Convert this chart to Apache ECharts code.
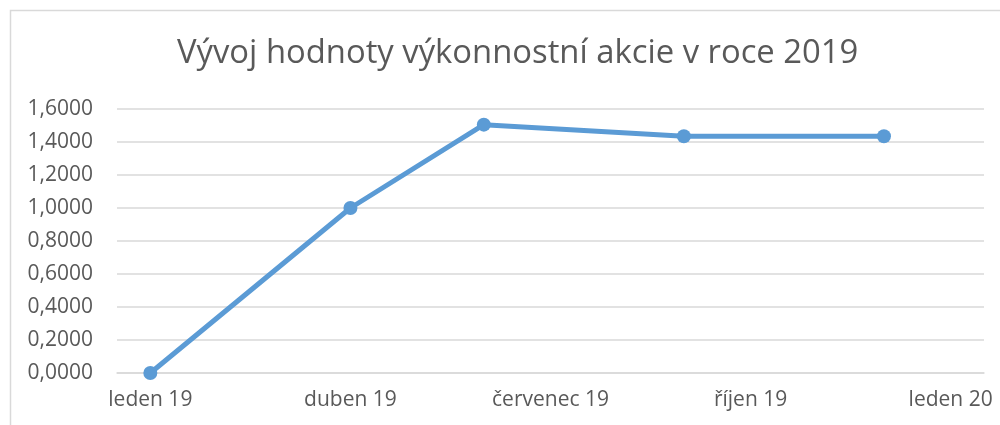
<!DOCTYPE html>
<html>
<head>
<meta charset="utf-8">
<script src="https://cdn.jsdelivr.net/npm/echarts@6/dist/echarts.min.js"></script>
<style>
  html, body { margin: 0; padding: 0; background: #fff; }
  #chart { width: 1000px; height: 425px; }
</style>
</head>
<body>
<div id="chart"></div>
<script>
// monthly axis, Jan 2019 .. Jan 2020
const months = ['leden 19', 'únor 19', 'březen 19', 'duben 19', 'květen 19', 'červen 19',
  'červenec 19', 'srpen 19', 'září 19', 'říjen 19', 'listopad 19', 'prosinec 19', 'leden 20'];
const values = [0, null, null, 1.0, null, 1.505, null, null, 1.435, null, null, 1.435, null];
const yTicks = [0, 0.2, 0.4, 0.6, 0.8, 1.0, 1.2, 1.4, 1.6];

const chart = echarts.init(document.getElementById('chart'));
const font = '"Open Sans", sans-serif';

chart.setOption({
  animation: false,
  graphic: [{
    type: 'rect',
    shape: { x: 10.5, y: 10.5, width: 1000, height: 430 },
    style: { fill: 'none', stroke: '#d9d9d9', lineWidth: 1.5 }
  }],
  title: {
    text: 'Vývoj hodnoty výkonnostní akcie v roce 2019',
    left: 172,
    top: 32,
    textStyle: { fontFamily: font, fontSize: 32.8, fontWeight: 'normal', color: '#595959' }
  },
  grid: { left: 117, right: 16, top: 109, bottom: 52 },
  xAxis: {
    type: 'category',
    data: months,
    boundaryGap: true,
    axisLine: { lineStyle: { color: '#d9d9d9', width: 1.5 } },
    axisTick: { interval: 2, length: 7, lineStyle: { color: '#d9d9d9', width: 1.5 } },
    axisLabel: { interval: 2, margin: 17, color: '#595959', fontFamily: font, fontSize: 21 }
  },
  yAxis: {
    type: 'value',
    min: yTicks[0],
    max: yTicks[yTicks.length - 1],
    interval: 0.2,
    axisLine: { show: false },
    axisTick: { show: false },
    splitLine: { lineStyle: { color: '#d9d9d9', width: 1.5 } },
    axisLabel: {
      margin: 24,
      color: '#595959',
      fontFamily: font,
      fontSize: 21,
      formatter: v => v.toFixed(4).replace('.', ',')
    }
  },
  series: [{
    type: 'line',
    data: values,
    connectNulls: true,
    symbol: 'circle',
    symbolSize: 14,
    lineStyle: { color: '#5b9bd5', width: 5 },
    itemStyle: { color: '#5b9bd5' }
  }]
});
</script>
</body>
</html>
